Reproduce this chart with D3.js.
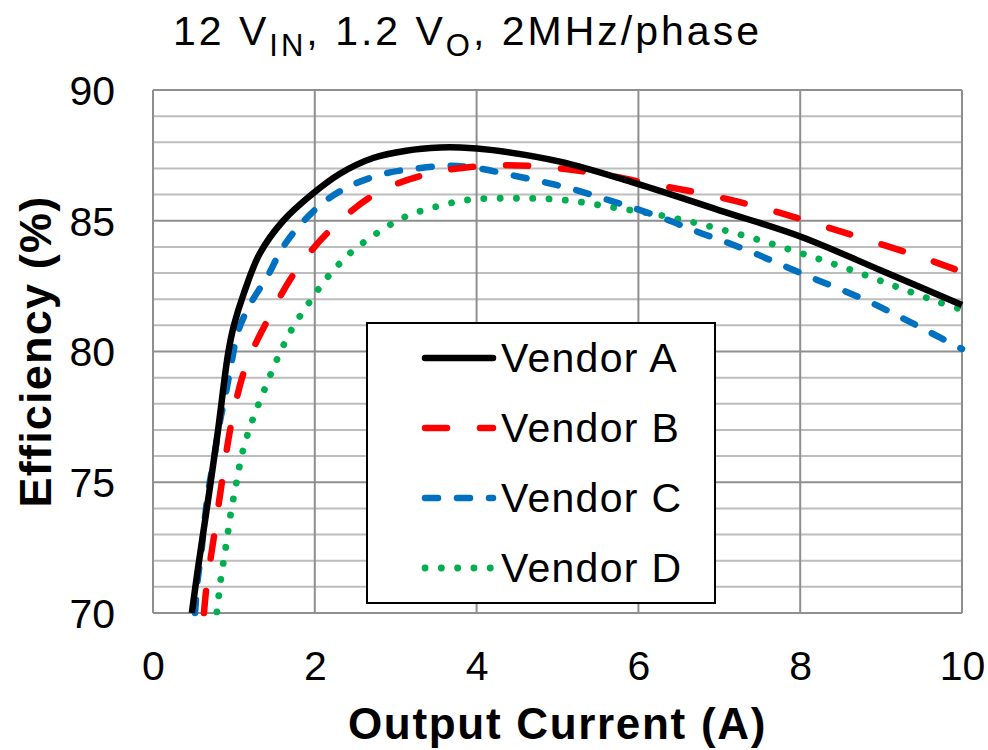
<!DOCTYPE html>
<html>
<head>
<meta charset="utf-8">
<script src="https://cdn.jsdelivr.net/npm/d3@7"></script>
<style>
  body { margin: 0; background: #fff; }
  svg text { font-family: "Liberation Sans", Arial, sans-serif; fill: #000; }
</style>
</head>
<body>
<div id="chart"></div>
<script>
// values: [output current A, efficiency %]
const vendors = ["Vendor A", "Vendor B", "Vendor C", "Vendor D"]
const vendorA = [[0.48,70.0],[0.56,71.8],[0.68,74.3],[0.80,76.9],[0.93,79.95],[1.0,81.0],[1.12,82.2],[1.32,83.75],[1.61,85.0],[1.98,86.05],[2.31,86.8],[2.72,87.4],[3.13,87.68],[3.55,87.8],[3.8,87.8],[4.2,87.7],[5.03,87.26],[6.0,86.4],[7.0,85.4],[8.0,84.4],[9.0,83.1],[10.0,81.78]]
const vendorB = [[0.63,70.0],[0.66,70.96],[0.76,73.06],[0.86,75.17],[0.97,77.27],[1.14,79.37],[1.43,81.28],[1.77,83.1],[2.21,84.7],[2.77,86.06],[3.41,86.8],[4.1,87.1],[4.8,87.07],[5.5,86.8],[6.17,86.4],[6.85,86.0],[7.52,85.5],[8.18,84.9],[8.84,84.26],[9.5,83.6],[10.0,83.05]]
const vendorC = [[0.52,70.0],[0.55,71.2],[0.6,72.4],[0.64,73.6],[0.69,74.8],[0.76,76.0],[0.82,77.2],[0.9,78.4],[0.97,79.56],[1.05,80.75],[1.2,81.8],[1.42,82.9],[1.6,83.96],[1.85,84.95],[2.15,85.8],[2.45,86.35],[2.86,86.8],[3.26,87.0],[3.65,87.1],[4.03,87.0],[4.42,86.75],[4.8,86.5],[5.2,86.2],[5.57,85.85],[5.93,85.5],[6.33,85.07],[6.71,84.6],[7.07,84.2],[7.44,83.75],[7.8,83.27],[8.16,82.8],[8.52,82.35],[8.89,81.85],[9.25,81.3],[9.6,80.74],[10.0,80.1]]
const vendorD = [[0.79,70.04],[0.84,71.34],[0.9,72.52],[0.96,73.79],[1.03,74.97],[1.11,76.2],[1.23,77.38],[1.38,78.56],[1.53,79.68],[1.71,80.82],[1.93,81.87],[2.16,82.85],[2.44,83.77],[2.77,84.53],[3.11,85.14],[3.49,85.53],[3.9,85.8],[4.5,85.86],[5.09,85.79],[5.69,85.51],[6.29,85.2],[6.86,84.8],[7.45,84.3],[8.02,83.75],[8.6,83.15],[9.17,82.5],[9.73,81.87],[10.0,81.6]]
const xTicks = [0, 2, 4, 6, 8, 10]
const yTicks = [70, 75, 80, 85, 90]

const W = 988, H = 750
const margin = {top: 90, right: 26, bottom: 137, left: 153}
const width = W - margin.left - margin.right,
    height = H - margin.top - margin.bottom

const svg = d3.select("#chart").append("svg")
    .attr("width", W).attr("height", H)

const x = d3.scaleLinear().domain([0, 10]).range([0, width])
const y = d3.scaleLinear().domain([70, 90]).range([height, 0])

const g = svg.append("g")
    .attr("transform", "translate(" + margin.left + "," + margin.top + ")")

// minor horizontal grid, one per %
g.append("g").selectAll("line")
  .data(d3.range(71, 90).filter(d => d % 5 != 0))
  .enter().append("line")
    .attr("x1", 0).attr("x2", width)
    .attr("y1", d => y(d)).attr("y2", d => y(d))
    .style("stroke", "#bdbdbd").style("stroke-width", 2)

// major grid
g.append("g").selectAll("line")
  .data(yTicks)
  .enter().append("line")
    .attr("x1", 0).attr("x2", width)
    .attr("y1", d => y(d)).attr("y2", d => y(d))
    .style("stroke", "#8f8f8f").style("stroke-width", 2)

g.append("g").selectAll("line")
  .data(xTicks)
  .enter().append("line")
    .attr("x1", d => x(d)).attr("x2", d => x(d))
    .attr("y1", 0).attr("y2", height)
    .style("stroke", "#8f8f8f").style("stroke-width", 2)

// axes (labels only)
const xAxis = g.append("g")
    .attr("transform", "translate(0," + height + ")")
    .call(d3.axisBottom(x).tickValues(xTicks).tickSize(0).tickPadding(38))
const yAxis = g.append("g")
    .call(d3.axisLeft(y).tickValues(yTicks).tickSize(0).tickPadding(38))
xAxis.select(".domain").remove()
yAxis.select(".domain").remove()
svg.selectAll(".tick text")
    .style("font-family", "'Liberation Sans', Arial, sans-serif")
    .style("font-size", "41px")
yAxis.selectAll(".tick text").attr("dy", "0.35em")

// series
const series = [
  {name: vendors[0], data: vendorA, color: "#000000", dash: null, width: 6.5},
  {name: vendors[1], data: vendorB, color: "#ff0000", dash: "22,33", width: 6.5},
  {name: vendors[2], data: vendorC, color: "#0070c0", dash: "13,19", width: 6.5},
  {name: vendors[3], data: vendorD, color: "#00b050", dash: "0.1,16.2", width: 6.8}
]

const line = d3.line()
    .curve(d3.curveCatmullRom.alpha(0.5))
    .x(d => x(d[0]))
    .y(d => y(d[1]))

g.append("g").selectAll("path")
  .data(series.slice().reverse())
  .enter().append("path")
    .attr("d", d => line(d.data))
    .style("fill", "none")
    .style("stroke", d => d.color)
    .style("stroke-width", d => d.width)
    .style("stroke-dasharray", d => d.dash)
    .style("stroke-linecap", d => d.dash ? "round" : "butt")
    .style("stroke-linejoin", "round")

// legend
const legend = svg.append("g").attr("transform", "translate(367,323)")
legend.append("rect")
    .attr("width", 348).attr("height", 280)
    .style("fill", "#fff").style("stroke", "#000").style("stroke-width", 2)

const item = legend.selectAll(".item")
  .data(series)
  .enter().append("g")
    .attr("class", "item")
    .attr("transform", (d, i) => "translate(0," + (35 + i * 70) + ")")
item.append("line")
    .attr("x1", 58).attr("x2", 126)
    .style("stroke", d => d.color)
    .style("stroke-width", d => d.width)
    .style("stroke-dasharray", d => d.dash)
    .style("stroke-linecap", "round")
item.append("text")
    .attr("x", 134).attr("dy", "0.35em")
    .style("font-size", "41px").style("letter-spacing", "1.3px")
    .text(d => d.name)

// title with subscripts
const title = svg.append("text")
    .attr("x", 173).attr("y", 45)
    .style("font-size", "41px").style("letter-spacing", "3px")
title.append("tspan").text("12 V")
title.append("tspan").attr("dy", 11).style("font-size", "31px").text("IN")
title.append("tspan").attr("dy", -11).text(", 1.2 V")
title.append("tspan").attr("dy", 11).style("font-size", "31px").text("O")
title.append("tspan").attr("dy", -11).text(", 2MHz/phase")

// axis titles
svg.append("text")
    .attr("x", margin.left + width / 2).attr("y", 739)
    .attr("text-anchor", "middle")
    .style("font-size", "44px").style("font-weight", "bold")
    .style("letter-spacing", "1.7px")
    .text("Output Current (A)")

svg.append("text")
    .attr("transform", "translate(51," + (margin.top + height / 2) + ") rotate(-90)")
    .attr("text-anchor", "middle")
    .style("font-size", "45px").style("font-weight", "bold")
    .style("letter-spacing", "1.2px")
    .text("Efficiency (%)")
</script>
</body>
</html>
